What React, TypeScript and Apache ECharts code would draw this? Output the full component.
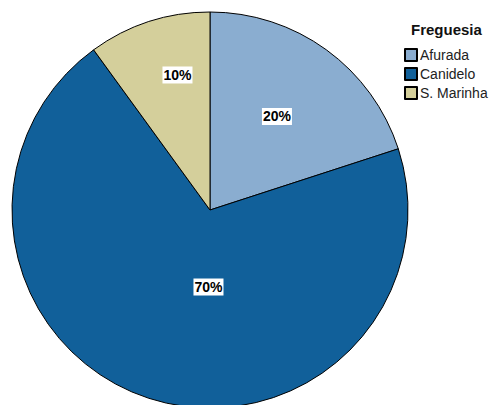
import React, { useEffect, useRef } from "react";
import * as echarts from "echarts";

const categories = ["Afurada", "Canidelo", "S. Marinha"];
const percents = [20, 70, 10];
const colors = ["#8aadd0", "#11609a", "#d4cf9b"];
const legendTitle = "Freguesia";
// label nudges relative to the default inside position (layout, not data)
const labelNudges: [number, number][] = [
  [7, -11],
  [30, -20],
  [-1, -38],
];

export default function App() {
  const ref = useRef<HTMLDivElement>(null);
  useEffect(() => {
    if (!ref.current) return;
    const chart = echarts.init(ref.current, undefined, { renderer: "svg" });
    chart.setOption({
      animation: false,
      backgroundColor: "#ffffff",
      title: {
        text: legendTitle,
        left: 411,
        top: 22,
        padding: 0,
        textStyle: {
          fontFamily: "Liberation Sans",
          fontSize: 15,
          fontWeight: "bold",
          color: "#111",
        },
      },
      legend: {
        orient: "vertical",
        left: 404,
        top: 48,
        padding: 0,
        itemWidth: 12,
        itemHeight: 12,
        itemGap: 5,
        icon: "rect",
        data: categories,
        textStyle: {
          fontFamily: "Liberation Sans",
          fontSize: 14,
          color: "#222",
          padding: [0, 0, 0, -2],
        },
      },
      series: [
        {
          type: "pie",
          center: [210, 210],
          radius: 198,
          startAngle: 90,
          clockwise: true,
          itemStyle: { borderColor: "#000", borderWidth: 1 },
          label: {
            show: true,
            position: "inside",
            formatter: "{c}%",
            backgroundColor: "#fff",
            color: "#000",
            fontWeight: "bold",
            fontSize: 14,
            fontFamily: "Liberation Sans",
            padding: [2, 1, 1, 1],
          },
          labelLine: { show: false },
          emphasis: { disabled: true },
          labelLayout: (p: any) => ({
            dx: labelNudges[p.dataIndex][0],
            dy: labelNudges[p.dataIndex][1],
          }),
          data: categories.map((name, i) => ({
            name,
            value: percents[i],
            itemStyle: { color: colors[i] },
          })),
        },
      ],
    });
    return () => chart.dispose();
  }, []);
  return (
    <div
      ref={ref}
      style={{ position: "fixed", left: 0, top: 0, width: 492, height: 405 }}
    />
  );
}
